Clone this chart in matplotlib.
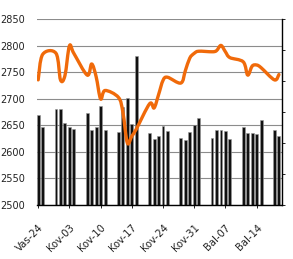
import numpy as np
import pandas as pd
import matplotlib
matplotlib.use("Agg")
import matplotlib.pyplot as plt
import matplotlib.dates as mdates
from matplotlib.path import Path
from matplotlib.patches import PathPatch

# trading days shown in the chart
DATES = [
    "2011-02-24", "2011-02-25",
    "2011-02-28", "2011-03-01", "2011-03-02", "2011-03-03", "2011-03-04",
    "2011-03-07", "2011-03-08", "2011-03-09", "2011-03-10", "2011-03-11",
    "2011-03-14", "2011-03-15", "2011-03-16", "2011-03-17", "2011-03-18",
    "2011-03-21", "2011-03-22", "2011-03-23", "2011-03-24", "2011-03-25",
    "2011-03-28", "2011-03-29", "2011-03-30", "2011-03-31", "2011-04-01",
    "2011-04-04", "2011-04-05", "2011-04-06", "2011-04-07", "2011-04-08",
    "2011-04-11", "2011-04-12", "2011-04-13", "2011-04-14", "2011-04-15",
    "2011-04-18", "2011-04-19",
]

BARS = [
    2669, 2647,
    2681, 2682, 2654, 2648, 2644,
    2673, 2641, 2647, 2687, 2641,
    2637, 2685, 2701, 2652, 2781,
    2636, 2625, 2631, 2649, 2639,
    2627, 2622, 2637, 2650, 2664,
    2627, 2642, 2642, 2639, 2624,
    2648, 2635, 2635, 2634, 2660,
    2641, 2630,
]

LINE = [
    2736, 2784,
    2786, 2736, 2744, 2800, 2786,
    2745, 2766, 2742, 2700, 2716,
    2703, 2675, 2617, 2630, 2643,
    2691, 2683, 2708, 2735, 2741,
    2730, 2753, 2777, 2786, 2790,
    2789, 2791, 2801, 2789, 2778,
    2770, 2745, 2762, 2764, 2759,
    2736, 2746,
]

TICK_DATES = ["2011-02-24", "2011-03-03", "2011-03-10", "2011-03-17",
              "2011-03-24", "2011-03-31", "2011-04-07", "2011-04-14"]
TICK_LABELS = ["Vas-24", "Kov-03", "Kov-10", "Kov-17",
               "Kov-24", "Kov-31", "Bal-07", "Bal-14"]

ORANGE = "#F06A0A"


def smooth_path(x, y):
    # Excel-like smoothed line: cubic bezier through every point
    pts = np.column_stack([x, y])
    verts = [pts[0]]
    codes = [Path.MOVETO]
    n = len(pts)
    for i in range(n - 1):
        p0 = pts[i - 1] if i > 0 else pts[i]
        p1 = pts[i]
        p2 = pts[i + 1]
        p3 = pts[i + 2] if i + 2 < n else pts[i + 1]
        c1 = p1 + (p2 - p0) / 6.0
        c2 = p2 - (p3 - p1) / 6.0
        verts += [c1, c2, p2]
        codes += [Path.CURVE4] * 3
    return Path(verts, codes)


x = mdates.date2num(pd.to_datetime(DATES))
x0 = mdates.date2num(pd.Timestamp("2011-02-24"))

fig = plt.figure(figsize=(2.93, 2.59), dpi=100)
ax = fig.add_axes([0.127, 0.2085, 0.834, 0.7165])

ax.set_axisbelow(True)
ax.yaxis.grid(True, color="#8c8c8c", lw=0.8)
ax.bar(x, np.array(BARS) - 2500, bottom=2500, width=0.65,
       color="#111111", edgecolor="#9a9a9a", lw=0.4, zorder=2)

patch = PathPatch(smooth_path(x, LINE), facecolor="none", edgecolor=ORANGE,
                  lw=2.4, capstyle="round", joinstyle="round", zorder=3)
ax.add_patch(patch)

ax.set_xlim(x0 - 0.22, x0 + 54.6)
ax.set_ylim(2500, 2850)
ax.set_yticks(np.arange(2500, 2851, 50))
ax.tick_params(axis="y", length=0, pad=9, labelsize=7, labelcolor="#222222")

ax.set_xticks(mdates.date2num(pd.to_datetime(TICK_DATES)))
ax.set_xticklabels(TICK_LABELS, rotation=45, ha="right",
                   rotation_mode="anchor", fontsize=7.2, color="#222222")
ax.tick_params(axis="x", length=2.5, width=0.6, pad=10)

for side in ["top", "left", "right"]:
    ax.spines[side].set_visible(False)
ax.spines["bottom"].set_linewidth(1.0)

ax2 = ax.twinx()
ax2.set_ylim(0, 6)
ax2.set_yticks(range(7))
ax2.tick_params(axis="y", length=2, width=0.6, labelright=False)
for side in ["top", "left", "bottom"]:
    ax2.spines[side].set_visible(False)
ax2.spines["right"].set_linewidth(1.0)

fig.savefig("out.png", dpi=100)
